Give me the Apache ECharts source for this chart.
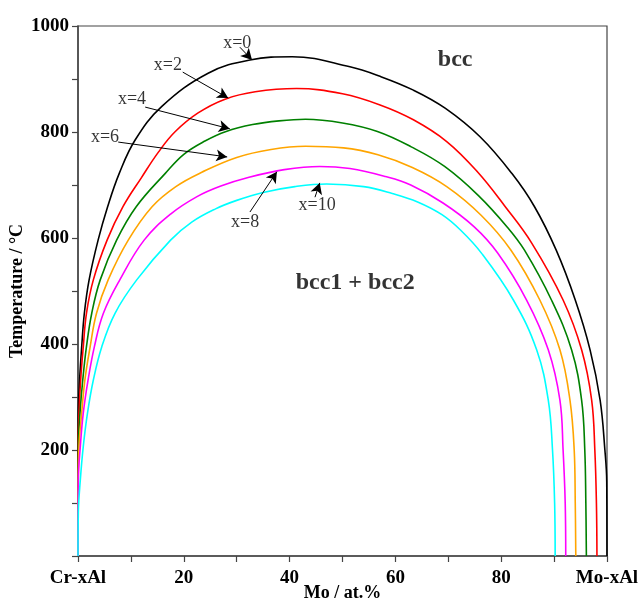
<!DOCTYPE html>
<html>
<head>
<meta charset="utf-8">
<script src="https://cdn.jsdelivr.net/npm/echarts@6/dist/echarts.min.js"></script>
<style>
  html, body { margin: 0; padding: 0; background: #fff; }
  #chart { width: 643px; height: 604px; }
</style>
</head>
<body>
<div id="chart"></div>
<script>
// Miscibility gap boundaries in the (Cr-xAl)-(Mo-xAl) section: [Mo at.%, T in °C]
const gapX0 = [[0,0],[0.02,200],[0.06,270],[0.3,332],[0.7,395],[1.2,458],[2.1,521],[3.8,596],[5.6,659],[7.8,722],[10.8,785],[15.8,848],[24.6,911],[32.5,936],[40.5,942],[51.4,923],[57.1,905],[63.4,879],[69.4,845],[76,791],[82,722],[86.3,659],[90.4,577],[94.0,483],[96.8,389],[98.7,294],[99.6,200],[99.95,140],[100,0]];
const gapX2 = [[0,0],[0.02,207],[0.19,270],[0.5,332],[1.0,395],[1.6,458],[2.9,521],[5.5,596],[8.5,659],[12,714],[15.2,762],[18.3,800],[22.7,836],[27.8,862],[33.5,876],[41.3,882],[50,872],[57.1,851],[63.4,823],[69.7,782],[75.5,725],[80.7,660],[85.8,590],[91.7,483],[95.2,389],[97.1,294],[97.7,200],[98.0,100],[98.1,0]];
const gapX4 = [[0,0],[0.06,207],[0.38,270],[0.9,332],[1.6,395],[2.6,458],[4.2,521],[7.3,596],[11,659],[16.5,722],[20,758],[24,783],[28,801],[33,814],[38,821],[43,824],[50,817],[56.6,801],[63,772],[69.3,735],[75.7,680],[81.2,620],[84.4,577],[89.5,483],[93.3,389],[95.2,294],[95.8,200],[96.0,100],[96.1,0]];
const gapX6 = [[0,0],[0.02,100],[0.19,207],[0.7,270],[1.3,332],[2.3,395],[3.5,458],[5.7,521],[9.5,596],[14,659],[18.5,697],[23.4,724],[30,752],[36.5,767],[43,773],[50.2,770],[56.7,757],[63.2,733],[69.7,697],[76.2,643],[81.85,577],[87.3,483],[91.1,389],[93.0,294],[93.8,200],[94.0,100],[94.1,0]];
const gapX8 = [[0,0],[0.06,144],[0.44,207],[1.0,270],[1.9,332],[3.1,395],[4.8,458],[7.9,521],[12.5,596],[17.5,645],[22.5,678],[27,698],[32.5,715],[39,729],[45.7,735],[51.4,731],[58.1,716],[62.9,700],[69,666],[74.9,621],[79.3,572],[84.8,483],[88.9,389],[91.1,294],[91.7,200],[92.1,100],[92.2,0]];
const gapX10 = [[0,0],[0.06,81],[0.44,144],[1.0,207],[1.8,270],[2.9,332],[4.5,395],[7.0,458],[11.1,521],[17.5,596],[21.5,630],[26,655],[30,671],[35,686],[41,697],[47,702],[54,697],[59.4,684],[64.2,668],[68.8,644],[72.3,615],[76.3,571],[82.3,483],[86.7,389],[88.9,294],[89.7,200],[90.1,100],[90.2,0]];

const curveNames = ['x=0', 'x=2', 'x=4', 'x=6', 'x=8', 'x=10'];
const curveData = [gapX0, gapX2, gapX4, gapX6, gapX8, gapX10];
const curveColors = ['#000000', '#ff0000', '#008000', '#ffa500', '#ff00ff', '#00ffff'];

// Curve tags and the arrows that point from each tag to its curve
const tagText = ['x=0', 'x=2', 'x=4', 'x=6', 'x=8', 'x=10'];
const tagAt = [[30.1,968],[17.0,926],[10.2,862],[5.1,791],[31.6,630],[45.2,662]];
const arrowFrom = [[30.6,960],[19.8,913],[12.7,847],[7.6,781],[32.5,649],[44.8,677]];
const arrowTo = [[32.9,936],[28.4,864],[28.7,806],[28.2,753],[37.6,725],[45.7,704]];

// Phase-field labels
const phaseText = ['bcc', 'bcc1 + bcc2'];
const phaseAt = [[71.3,936],[52.4,515]];

const serif = '"Liberation Serif", "Times New Roman", "DejaVu Serif", serif';

const chart = echarts.init(document.getElementById('chart'), null, { renderer: 'canvas' });

const lineSeries = curveData.map((d, i) => ({
  name: curveNames[i],
  type: 'line',
  data: d,
  showSymbol: false,
  symbol: 'none',
  smooth: 0.4,
  lineStyle: { color: curveColors[i], width: 1.6 },
  z: 3,
  animation: false
}));

const arrowSeries = {
  type: 'line',
  data: [],
  animation: false,
  markLine: {
    silent: true,
    animation: false,
    symbol: ['none', 'arrow'],
    symbolSize: [9, 11],
    label: { show: false },
    lineStyle: { color: '#000', width: 1, type: 'solid' },
    data: arrowFrom.map((p, i) => [{ coord: p }, { coord: arrowTo[i] }])
  }
};

const tagSeries = {
  type: 'scatter',
  symbolSize: 0,
  animation: false,
  data: tagText.map((t, i) => ({ name: t, value: tagAt[i] })),
  label: {
    show: true, position: 'inside', formatter: '{b}',
    color: '#000', fontFamily: serif, fontSize: 18
  },
  z: 5
};

const phaseSeries = {
  type: 'scatter',
  symbolSize: 0,
  animation: false,
  data: phaseText.map((t, i) => ({ name: t, value: phaseAt[i] })),
  label: {
    show: true, position: 'inside', formatter: '{b}',
    color: '#000', fontFamily: serif, fontSize: 24, fontWeight: 'bold'
  },
  z: 5
};

chart.setOption({
  animation: false,
  backgroundColor: '#fff',
  grid: {
    left: 78, right: 36, top: 26, bottom: 48,
    containLabel: false, outerBoundsMode: 'none',
    show: true, borderColor: '#444', borderWidth: 1.2, backgroundColor: 'transparent'
  },
  xAxis: {
    type: 'value', min: 0, max: 100, interval: 10,
    name: 'Mo / at.%', nameLocation: 'middle', nameGap: 28, nameMoveOverlap: false,
    nameTextStyle: { fontFamily: serif, fontSize: 18, fontWeight: 'bold', color: '#000' },
    axisLine: { show: true, onZero: false, lineStyle: { color: '#444', width: 1.5 } },
    axisTick: { show: true, length: 6, lineStyle: { color: '#444', width: 1.2 } },
    splitLine: { show: false },
    axisLabel: {
      margin: 13, color: '#000', fontFamily: serif, fontSize: 19, fontWeight: 'bold',
      formatter: v => v === 0 ? 'Cr-xAl' : v === 100 ? 'Mo-xAl' : (v % 20 === 0 ? String(v) : '')
    }
  },
  yAxis: {
    type: 'value', min: 0, max: 1000, interval: 100,
    name: 'Temperature / °C', nameLocation: 'middle', nameGap: 52, nameMoveOverlap: false,
    nameTextStyle: { fontFamily: serif, fontSize: 18, fontWeight: 'bold', color: '#000' },
    axisLine: { show: true, onZero: false, lineStyle: { color: '#444', width: 1.5 } },
    axisTick: { show: true, length: 6, lineStyle: { color: '#444', width: 1.2 } },
    splitLine: { show: false },
    axisLabel: {
      margin: 9, color: '#000', fontFamily: serif, fontSize: 19, fontWeight: 'bold',
      formatter: v => (v > 0 && v % 200 === 0) ? String(v) : ''
    }
  },
  series: [...lineSeries, arrowSeries, tagSeries, phaseSeries]
});
</script>
</body>
</html>
